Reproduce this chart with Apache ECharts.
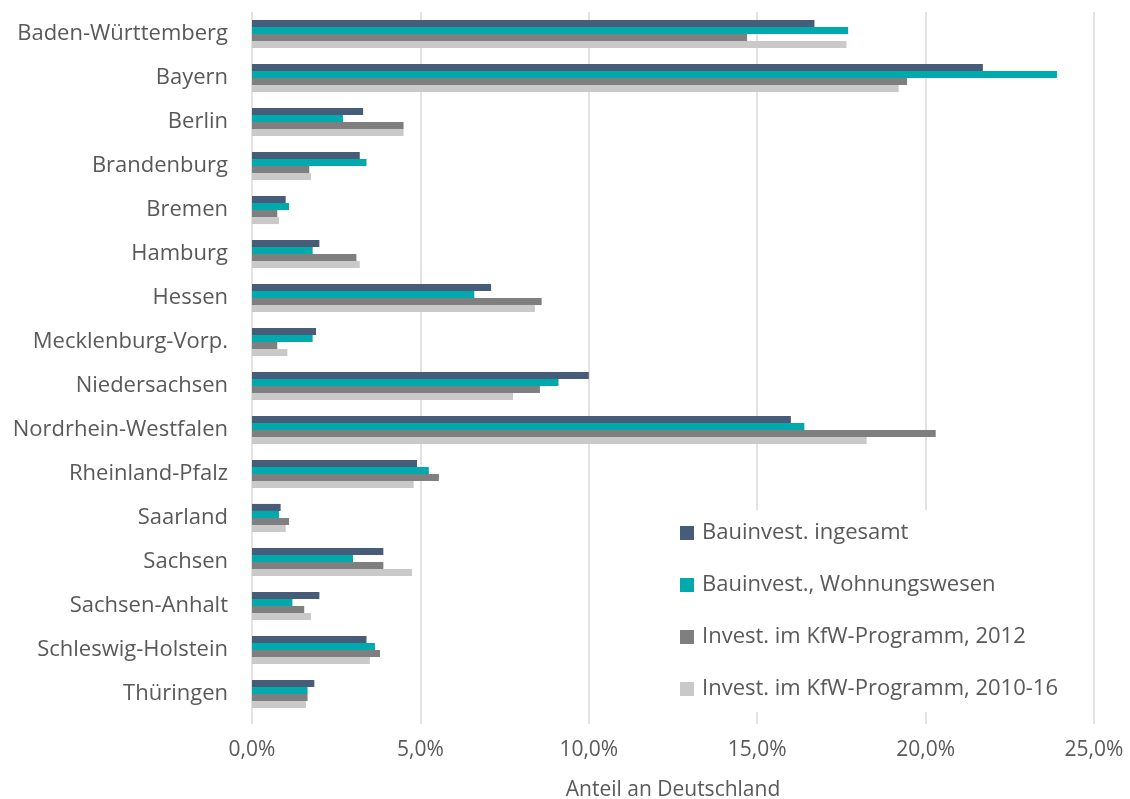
<!DOCTYPE html>
<html>
<head>
<meta charset="utf-8">
<script src="https://cdn.jsdelivr.net/npm/echarts@6/dist/echarts.min.js"></script>
<style>
    html, body { margin: 0; padding: 0; background: #fff; }
    #chart { width: 1130px; height: 799px; }
</style>
</head>
<body>
<div id="chart"></div>
<script>
// Bundesländer (von oben nach unten)
const laender = [
    'Baden-Württemberg', 'Bayern', 'Berlin', 'Brandenburg', 'Bremen', 'Hamburg',
    'Hessen', 'Mecklenburg-Vorp.', 'Niedersachsen', 'Nordrhein-Westfalen',
    'Rheinland-Pfalz', 'Saarland', 'Sachsen', 'Sachsen-Anhalt',
    'Schleswig-Holstein', 'Thüringen'
];

// Anteile in Prozent
const bauinvestGesamt = [16.7, 21.7, 3.3, 3.2, 1.0, 2.0, 7.1, 1.9, 10.0, 16.0, 4.9, 0.85, 3.9, 2.0, 3.4, 1.85];
const bauinvestWohnen = [17.7, 23.9, 2.7, 3.4, 1.1, 1.8, 6.6, 1.8, 9.1, 16.4, 5.25, 0.8, 3.0, 1.2, 3.65, 1.65];
const kfw2012 = [14.7, 19.45, 4.5, 1.7, 0.75, 3.1, 8.6, 0.75, 8.55, 20.3, 5.55, 1.1, 3.9, 1.55, 3.8, 1.65];
const kfw2010_16 = [17.65, 19.2, 4.5, 1.75, 0.8, 3.2, 8.4, 1.05, 7.75, 18.25, 4.8, 1.0, 4.75, 1.75, 3.5, 1.6];

const serienNamen = [
    'Bauinvest. ingesamt',
    'Bauinvest., Wohnungswesen',
    'Invest. im KfW-Programm, 2012',
    'Invest. im KfW-Programm, 2010-16'
];
const farben = ['#475c78', '#00a9ac', '#7f7f7f', '#c9c9c9'];

const chart = echarts.init(document.getElementById('chart'));
const schrift = '"Open Sans", sans-serif';
const gitterFarbe = '#d9d9d9';

const reihen = [bauinvestGesamt, bauinvestWohnen, kfw2012, kfw2010_16].map((daten, i) => ({
    name: serienNamen[i],
    type: 'bar',
    data: daten,
    barGap: '0%',
    barCategoryGap: '36%',
    itemStyle: { color: farben[i] }
}));

chart.setOption({
    animation: false,
    textStyle: { fontFamily: schrift },
    grid: { left: 252, right: 36, top: 12, bottom: 83, containLabel: false, outerBoundsMode: 'none' },
    legend: {
        orient: 'vertical',
        left: 668,
        top: 510,
        data: serienNamen,
        backgroundColor: '#fff',
        padding: [12, 30, 12, 12],
        itemWidth: 14,
        itemHeight: 14,
        itemGap: 30,
        icon: 'rect',
        textStyle: { fontSize: 22, color: '#595959', fontFamily: schrift, padding: [0, 0, 0, 3] }
    },
    xAxis: {
        type: 'value',
        min: 0,
        max: 25,
        interval: 5,
        name: 'Anteil an Deutschland',
        nameLocation: 'middle',
        nameGap: 64,
        nameTextStyle: { fontSize: 21, color: '#595959' },
        axisLine: { show: false },
        axisTick: { show: true, length: 8, lineStyle: { color: gitterFarbe, width: 1.5 } },
        axisLabel: {
            margin: 24,
            fontSize: 21,
            color: '#595959',
            formatter: v => v.toFixed(1).replace('.', ',') + '%'
        },
        splitLine: { show: true, lineStyle: { color: gitterFarbe, width: 1.5 } }
    },
    yAxis: {
        type: 'category',
        data: laender,
        inverse: true,
        axisLine: { show: false },
        axisTick: { show: false },
        axisLabel: { margin: 24, fontSize: 22, color: '#595959' }
    },
    series: reihen
});
</script>
</body>
</html>
